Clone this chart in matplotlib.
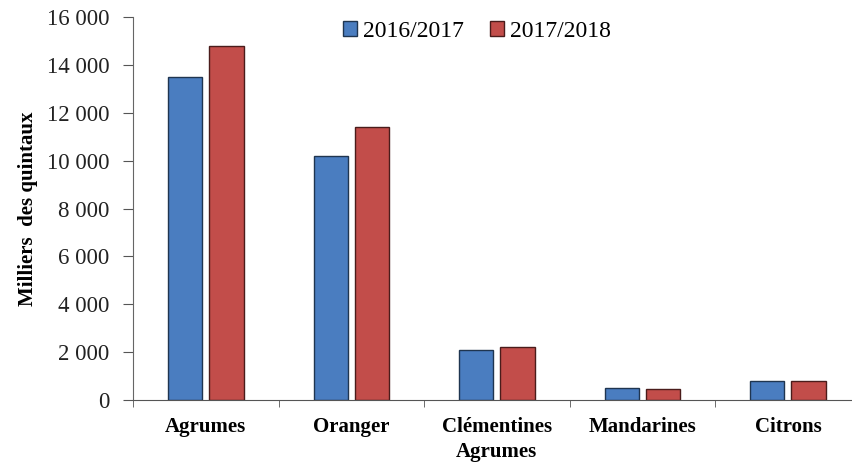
import matplotlib.pyplot as plt
import numpy as np
from matplotlib.ticker import FuncFormatter

categories = ["Agrumes", "Oranger", "Clémentines", "Mandarines", "Citrons"]
season_1 = [13500, 10200, 2100, 500, 800]
season_2 = [14800, 11400, 2200, 480, 800]
labels = ["2016/2017", "2017/2018"]

plt.rcParams["font.family"] = ["Liberation Serif", "DejaVu Serif"]

fig = plt.figure(figsize=(8.53, 4.66), dpi=100)
ax = fig.add_axes([0.156, 0.1416, 1.009 - 0.156, 0.9635 - 0.1416])

x = np.arange(len(categories))
w = 0.235
ax.bar(x - 0.142, season_1, w, color="#4a7dc0", edgecolor="#1f3550", linewidth=1.0, label=labels[0])
ax.bar(x + 0.142, season_2, w, color="#c24d4a", edgecolor="#4a1c1b", linewidth=1.0, label=labels[1])

ax.set_xlim(-0.5, len(categories) - 0.5)
ax.set_ylim(0, 16000)
ax.set_yticks(np.arange(0, 16001, 2000))
ax.yaxis.set_major_formatter(FuncFormatter(lambda v, p: f"{int(v):,}".replace(",", " ")))
ax.set_xticks(x)
ax.set_xticklabels(categories, fontweight="bold", fontsize=15)
ax.set_xticks(np.arange(-0.5, len(categories), 1), minor=True)
ax.tick_params(axis="x", which="major", length=0, pad=12)
ax.tick_params(axis="x", which="minor", length=5, color="#555555")
ax.tick_params(axis="y", labelsize=16.5, length=7, color="#555555", colors="#222222", pad=10)

for s in ["top", "right"]:
    ax.spines[s].set_visible(False)
ax.spines["left"].set_color("#666666")
ax.spines["bottom"].set_color("#555555")

ax.set_ylabel("Milliers  des quintaux", fontweight="bold", fontsize=15, labelpad=6)
ax.set_xlabel("Agrumes", fontweight="bold", fontsize=15, labelpad=4)

ax.legend(loc="upper center", bbox_to_anchor=(0.473, 1.045), ncol=2, frameon=False,
          fontsize=17, handlelength=0.6, handleheight=0.6, handletextpad=0.25, columnspacing=1.1)

fig.savefig("out.png", dpi=100)
